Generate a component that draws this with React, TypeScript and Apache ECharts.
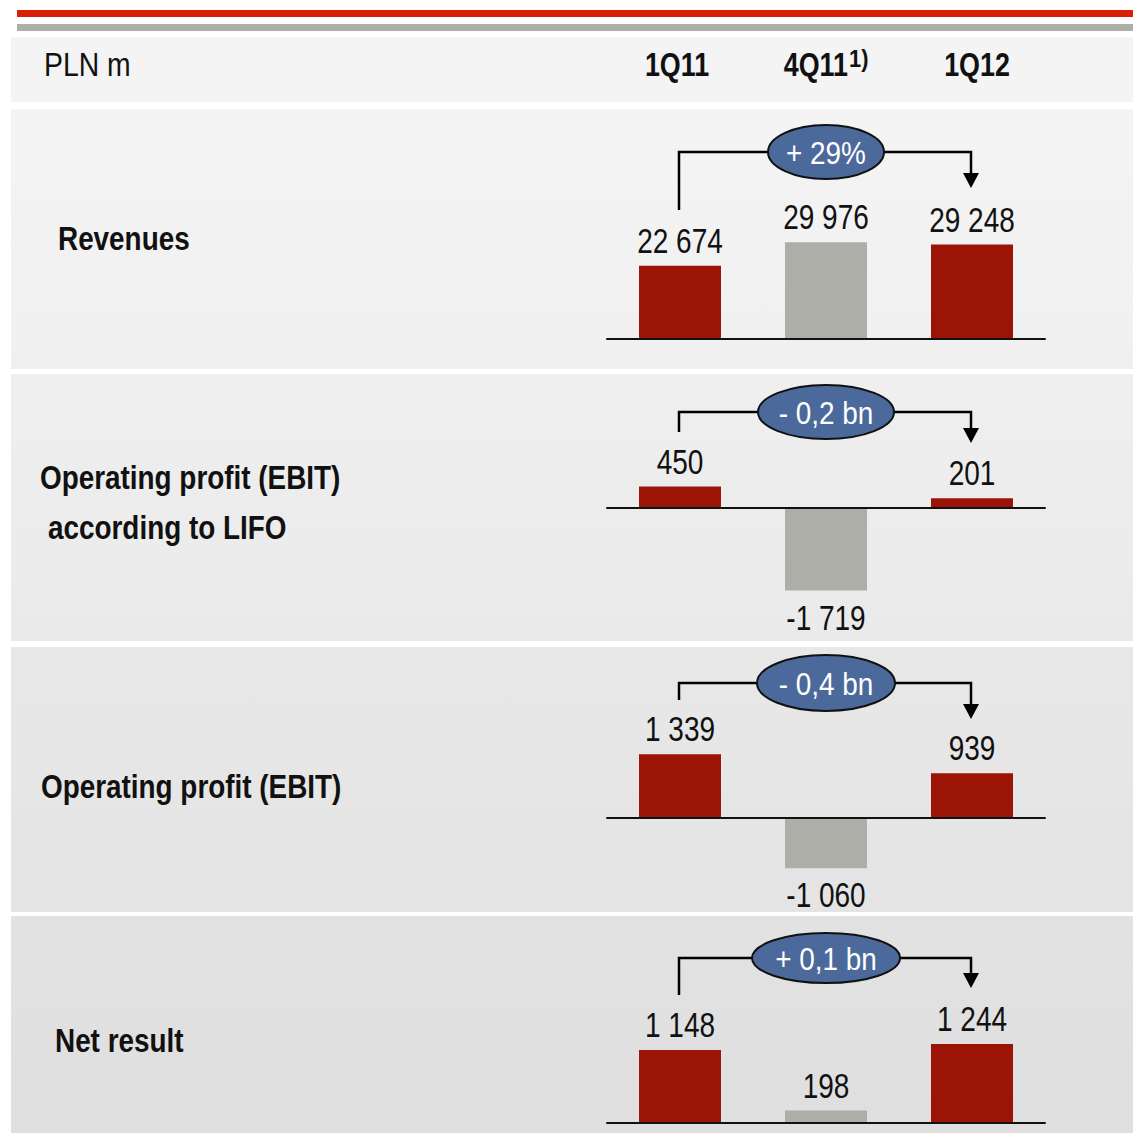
import React, { useEffect, useRef } from "react";
import * as echarts from "echarts";

const categories = ["1Q11", "4Q11", "1Q12"];
const revenues = [22674, 29976, 29248];
const ebitLifo = [450, -1719, 201];
const ebit = [1339, -1060, 939];
const netResult = [1148, 198, 1244];
const changeLabels = ["+ 29%", "- 0,2 bn", "- 0,4 bn", "+ 0,1 bn"];
const rowLabels = ["Revenues", "Operating profit (EBIT)", "according to LIFO", "Operating profit (EBIT)", "Net result"];
const unitLabel = "PLN m";
const footnoteMark = "1)";

const FONT = '"Liberation Sans", Arial, sans-serif';
const RED = "#9C1405";
const GRAY = "#AEAEA9";
const barColors = [RED, GRAY, RED];

// grid layout
const gridDefs = [
  { top: 129, height: 210, min: 0, max: 65000 },
  { top: 436, height: 168, min: -2000, max: 1500 },
  { top: 723, height: 166, min: -1500, max: 2000 },
  { top: 996, height: 127, min: 0, max: 2000 },
];
const seriesValues = [revenues, ebitLifo, ebit, netResult];

function fmt(v: number): string {
  const s = Math.abs(v).toString().replace(/\B(?=(\d{3})+(?!\d))/g, " ");
  return (v < 0 ? "-" : "") + s;
}

export default function App() {
  const ref = useRef<HTMLDivElement>(null);
  useEffect(() => {
    if (!ref.current) return;
    const chart = echarts.init(ref.current, undefined, { renderer: "svg" });

    const grids = gridDefs.map((g) => ({ left: 607, width: 438, top: g.top, height: g.height }));
    const xAxes = gridDefs.map((_, i) => ({
      type: "category",
      gridIndex: i,
      data: categories,
      z: 5,
      axisLine: { show: true, onZero: true, lineStyle: { color: "#111", width: 2 } },
      axisTick: { show: false },
      axisLabel: { show: false },
      splitLine: { show: false },
    }));
    const yAxes = gridDefs.map((g, i) => ({
      type: "value",
      gridIndex: i,
      min: g.min,
      max: g.max,
      show: false,
      splitLine: { show: false },
    }));
    const series: any[] = [];
    seriesValues.forEach((vals, i) => {
      series.push({
        type: "bar",
        xAxisIndex: i,
        yAxisIndex: i,
        barWidth: 82,
        data: vals.map((v, j) => ({ value: v, itemStyle: { color: barColors[j] } })),
      });
      series.push({
        type: "custom",
        xAxisIndex: i,
        yAxisIndex: i,
        clip: false,
        z: 6,
        data: vals.map((v, j) => [j, v]),
        renderItem: (_params: any, api: any) => {
          const v = api.value(1) as number;
          const p = api.coord([api.value(0), v]);
          return {
            type: "text",
            x: p[0],
            y: v < 0 ? p[1] + 27 : p[1] - 25,
            scaleX: 0.8,
            scaleY: 1,
            style: {
              text: fmt(v),
              fontFamily: FONT,
              fontSize: 35,
              fill: "#111",
              textAlign: "center",
              textVerticalAlign: "middle",
            },
          };
        },
      });
    });

    const grad = (a: string, b: string) => ({
      type: "linear",
      x: 0,
      y: 0,
      x2: 0,
      y2: 1,
      colorStops: [
        { offset: 0, color: a },
        { offset: 1, color: b },
      ],
    });

    const graphics: any[] = [];
    graphics.push({ type: "rect", z: -10, silent: true, shape: { x: 17, y: 10, width: 1116, height: 7 }, style: { fill: "#DA1F05" } });
    graphics.push({ type: "rect", z: -10, silent: true, shape: { x: 17, y: 24, width: 1116, height: 7 }, style: { fill: "#AEAEA8" } });
    const panels = [
      { y: 37, h: 65, a: "#F4F4F4", b: "#F4F4F4" },
      { y: 109, h: 260, a: "#F4F4F4", b: "#F0F0F0" },
      { y: 374, h: 267, a: "#EFEFEF", b: "#EAEAEA" },
      { y: 647, h: 265, a: "#E8E8E8", b: "#E4E4E4" },
      { y: 916, h: 217, a: "#E2E2E2", b: "#DFDFDF" },
    ];
    panels.forEach((p) =>
      graphics.push({ type: "rect", z: -10, silent: true, shape: { x: 11, y: p.y, width: 1122, height: p.h }, style: { fill: grad(p.a, p.b) } })
    );
    const txt = (text: string, x: number, y: number, size: number, bold: boolean, sx: number, align = "left", fill = "#111") => ({
      type: "text",
      z: 20,
      silent: true,
      x,
      y,
      scaleX: sx,
      scaleY: 1,
      style: {
        text,
        fontFamily: FONT,
        fontSize: size,
        fontWeight: bold ? "bold" : "normal",
        fill,
        textAlign: align,
        textVerticalAlign: "middle",
      },
    });
    // header
    graphics.push(txt(unitLabel, 44, 65, 33, false, 0.86));
    graphics.push(txt(categories[0], 677, 64, 34, true, 0.79, "center"));
    graphics.push(txt(categories[1], 848, 64, 34, true, 0.79, "right"));
    graphics.push(txt(footnoteMark, 849, 59, 23, true, 0.95, "left"));
    graphics.push(txt(categories[2], 977, 64, 34, true, 0.79, "center"));
    // row labels
    graphics.push(txt(rowLabels[0], 58, 239, 34, true, 0.82));
    graphics.push(txt(rowLabels[1], 40, 478, 34, true, 0.82));
    graphics.push(txt(rowLabels[2], 48, 528, 34, true, 0.82));
    graphics.push(txt(rowLabels[3], 41, 787, 34, true, 0.82));
    graphics.push(txt(rowLabels[4], 55, 1041, 34, true, 0.82));

    // brackets + ellipses
    const brackets = [
      { hy: 152, leftTop: 210, headTop: 173, tip: 188, rx: 58, ry: 27 },
      { hy: 412, leftTop: 432, headTop: 428, tip: 443, rx: 68, ry: 27 },
      { hy: 683, leftTop: 700, headTop: 704, tip: 719, rx: 69, ry: 28 },
      { hy: 958, leftTop: 995, headTop: 973, tip: 988, rx: 74, ry: 25 },
    ];
    const lx = 679, rxp = 971, cx = 826;
    brackets.forEach((b, i) => {
      graphics.push({
        type: "polyline",
        z: 10,
        silent: true,
        shape: { points: [[lx, b.leftTop], [lx, b.hy], [rxp, b.hy], [rxp, b.headTop]] },
        style: { stroke: "#000", lineWidth: 2.5, fill: null },
      });
      graphics.push({
        type: "polygon",
        z: 10,
        silent: true,
        shape: { points: [[rxp - 8, b.headTop], [rxp + 8, b.headTop], [rxp, b.tip]] },
        style: { fill: "#000" },
      });
      graphics.push({
        type: "ellipse",
        z: 11,
        silent: true,
        shape: { cx, cy: b.hy, rx: b.rx, ry: b.ry },
        style: { fill: "#4B6A9B", stroke: "#111", lineWidth: 2 },
      });
      graphics.push(txt(changeLabels[i], cx, b.hy + 1, 31, false, 0.9, "center", "#FFFFFF"));
    });

    chart.setOption({
      animation: false,
      backgroundColor: "#FFFFFF",
      grid: grids,
      xAxis: xAxes,
      yAxis: yAxes,
      series,
      graphic: { elements: graphics },
    });
    return () => chart.dispose();
  }, []);
  return <div ref={ref} style={{ position: "absolute", left: 0, top: 0, width: 1133, height: 1133 }} />;
}
